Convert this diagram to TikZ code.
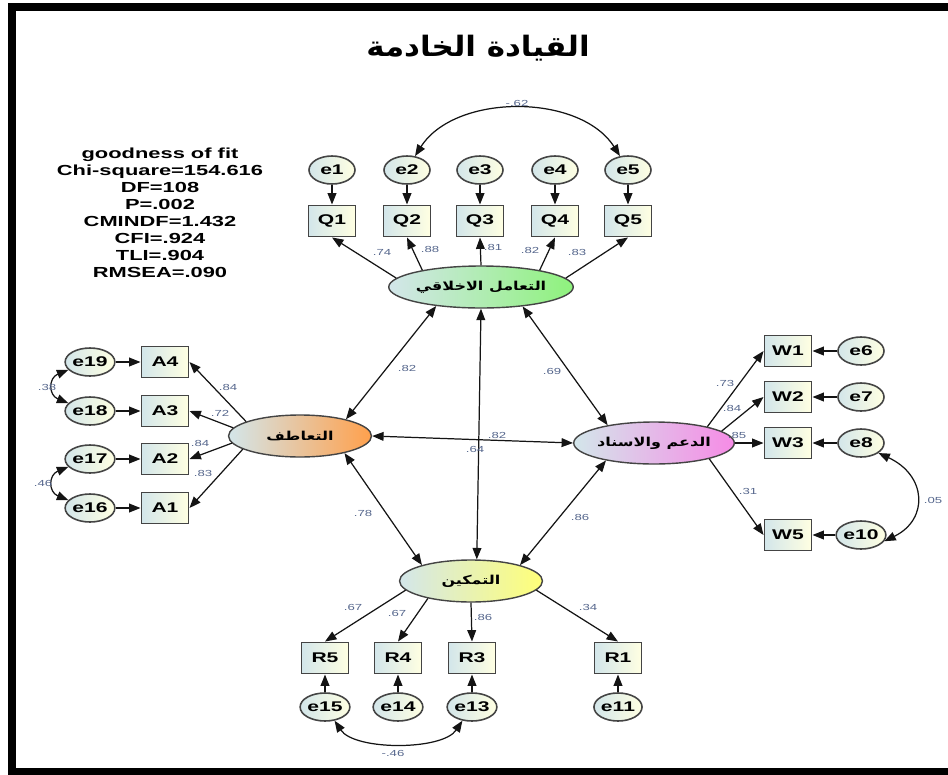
\documentclass[tikz,border=0pt]{standalone}
\usepackage{fontspec}
\setmainfont{Liberation Sans}
\newfontfamily\latinwide[FakeStretch=1.5]{Liberation Sans}
\newfontfamily\arabicfont[Script=Arabic,FakeStretch=1.3]{DejaVu Sans}
\newfontfamily\arabictitle[Script=Arabic,FakeStretch=1.1]{DejaVu Sans}
\TeXXeTstate=1
\usepackage{tikz}
\usetikzlibrary{arrows.meta,shapes.geometric}
\definecolor{SEMLine}{HTML}{141414}
\definecolor{SEMBorder}{HTML}{444444}
\definecolor{SEMNum}{HTML}{55668C}
\definecolor{SEMPale}{HTML}{D3E6EA}
\definecolor{SEMCream}{HTML}{FFFFE2}
\definecolor{SEMGreen}{HTML}{8EF27C}
\definecolor{SEMOrange}{HTML}{FFA04C}
\definecolor{SEMPink}{HTML}{F68BE6}
\definecolor{SEMYellow}{HTML}{FFFF78}

\begin{document}
\begin{tikzpicture}[x=0.02cm,y=-0.02cm,
  obs/.style={draw=SEMBorder,line width=1.1pt,left color=SEMPale,right color=SEMCream,
              minimum width=0.94cm,minimum height=0.62cm,inner sep=0pt,
              font=\latinwide\bfseries\fontsize{8}{9}\selectfont},
  err/.style={ellipse,draw=SEMBorder,line width=0.9pt,left color=SEMPale,right color=SEMCream,
              minimum width=0.92cm,minimum height=0.56cm,inner sep=0pt,
              font=\latinwide\bfseries\fontsize{8}{9}\selectfont},
  lat/.style={ellipse,draw=SEMBorder,line width=0.8pt,left color=SEMPale,
              minimum width=2.86cm,minimum height=0.84cm,inner sep=0pt,
              font=\arabicfont\bfseries\fontsize{7}{9}\selectfont},
  num/.style={text=SEMNum,inner sep=0pt,font=\latinwide\fontsize{5}{6}\selectfont},
  arr/.style={-{Triangle[length=6.5pt,width=5pt]},line width=0.7pt,draw=SEMLine},
  cov/.style={{Triangle[length=6.5pt,width=5pt]}-{Triangle[length=6.5pt,width=5pt]},
              line width=0.7pt,draw=SEMLine}
]
\useasboundingbox (0,0) rectangle (948,775);
\fill (8,3) rectangle (948,11);
\fill (8,3) rectangle (16,775);
\fill (8,768) rectangle (948,775);

\node[font=\arabictitle\bfseries\fontsize{16}{18}\selectfont] (title) at (478,48) {\beginR القيادة الخادمة\endR};
\node[align=center,font=\latinwide\bfseries\fontsize{8.3}{9.7}\selectfont] (gof) at (160,213)
  {goodness of fit\\Chi-square=154.616\\DF=108\\P=.002\\CMINDF=1.432\\CFI=.924\\TLI=.904\\RMSEA=.090};

\node[err] (e1) at (332,170) {e1};
\node[err] (e2) at (407,170) {e2};
\node[err] (e3) at (480,170) {e3};
\node[err] (e4) at (555,170) {e4};
\node[err] (e5) at (628,170) {e5};
\node[obs] (Q1) at (332,221) {Q1};
\node[obs] (Q2) at (407,221) {Q2};
\node[obs] (Q3) at (480,221) {Q3};
\node[obs] (Q4) at (555,221) {Q4};
\node[obs] (Q5) at (628,221) {Q5};
\node[lat,right color=SEMGreen] (moral) at (481,287) {\beginR التعامل الاخلاقي\endR};

\node[err] (e19) at (90,362) {e19};
\node[err] (e18) at (90,411) {e18};
\node[err] (e17) at (90,459) {e17};
\node[err] (e16) at (90,508) {e16};
\node[obs] (A4) at (165,362) {A4};
\node[obs] (A3) at (165,411) {A3};
\node[obs] (A2) at (165,459) {A2};
\node[obs] (A1) at (165,508) {A1};
\node[lat,right color=SEMOrange] (empathy) at (300,436) {\beginR التعاطف\endR};

\node[obs] (W1) at (788,351) {W1};
\node[obs] (W2) at (788,397) {W2};
\node[obs] (W3) at (788,443) {W3};
\node[obs] (W5) at (788,535) {W5};
\node[err] (e6) at (861,351) {e6};
\node[err] (e7) at (861,397) {e7};
\node[err] (e8) at (861,443) {e8};
\node[err] (e10) at (861,535) {e10};
\node[lat,right color=SEMPink] (support) at (654,443) {\beginR الدعم والاسناد\endR};

\node[lat,right color=SEMYellow] (empower) at (471,581) {\beginR التمكين\endR};
\node[obs] (R5) at (325,658) {R5};
\node[obs] (R4) at (398,658) {R4};
\node[obs] (R3) at (472,658) {R3};
\node[obs] (R1) at (618,658) {R1};
\node[err] (e15) at (325,707) {e15};
\node[err] (e14) at (398,707) {e14};
\node[err] (e13) at (472,707) {e13};
\node[err] (e11) at (618,707) {e11};

\draw[arr] (e1) -- (Q1);
\draw[arr] (e2) -- (Q2);
\draw[arr] (e3) -- (Q3);
\draw[arr] (e4) -- (Q4);
\draw[arr] (e5) -- (Q5);
\draw[arr] (moral.174) -- (Q1.south);
\draw[arr] (moral.164) -- (Q2.south);
\draw[arr] (moral.north) -- (Q3.south);
\draw[arr] (moral.16) -- (Q4.south);
\draw[arr] (moral.6) -- (Q5.south);
\draw[cov] (e2.60) .. controls +(40,-63) and +(-40,-63) .. (e5.120);

\draw[arr] (e19) -- (A4);
\draw[arr] (e18) -- (A3);
\draw[arr] (e17) -- (A2);
\draw[arr] (e16) -- (A1);
\draw[arr] (empathy.165) -- (A4.east);
\draw[arr] (empathy.173) -- (A3.east);
\draw[arr] (empathy.186) -- (A2.east);
\draw[arr] (empathy.193) -- (A1.east);
\draw[cov] (e19.200) .. controls +(-20,8) and +(-20,-8) .. (e18.160);
\draw[cov] (e17.200) .. controls +(-20,8) and +(-20,-8) .. (e16.160);

\draw[arr] (e6) -- (W1);
\draw[arr] (e7) -- (W2);
\draw[arr] (e8) -- (W3);
\draw[arr] (e10) -- (W5);
\draw[arr] (support.17) -- (W1.west);
\draw[arr] (support.10) -- (W2.west);
\draw[arr] (support.east) -- (W3.west);
\draw[arr] (support.344) -- (W5.west);
\draw[cov] (e8.330) .. controls +(48,22) and +(45,-22) .. (e10.345);

\draw[arr] (e15) -- (R5);
\draw[arr] (e14) -- (R4);
\draw[arr] (e13) -- (R3);
\draw[arr] (e11) -- (R1);
\draw[arr] (empower.188) -- (R5.north);
\draw[arr] (empower.202) -- (R4.north);
\draw[arr] (empower.south) -- (R3.north);
\draw[arr] (empower.352) -- (R1.north);
\draw[cov] (e15.305) .. controls +(20,30) and +(-20,30) .. (e13.235);

\draw[cov] (moral.203) -- (empathy.20);
\draw[cov] (moral.335) -- (support.159);
\draw[cov] (empathy.east) -- (support.west);
\draw[cov] (moral.south) -- (empower.75);
\draw[cov] (empathy.339) -- (empower.162);
\draw[cov] (support.200) -- (empower.18);

\node[num] (nq1) at (382,252) {.74};
\node[num] (nq2) at (430,249) {.88};
\node[num] (nq3) at (493,247) {.81};
\node[num] (nq4) at (530,250) {.82};
\node[num] (nq5) at (577,252) {.83};
\node[num] (nq25) at (517,103) {-.62};
\node[num] (na4) at (228,387) {.84};
\node[num] (na3) at (220,413) {.72};
\node[num] (na2) at (200,443) {.84};
\node[num] (na1) at (203,473) {.83};
\node[num] (na43) at (47,387) {.38};
\node[num] (na21) at (43,483) {.46};
\node[num] (nw1) at (725,383) {.73};
\node[num] (nw2) at (732,408) {.84};
\node[num] (nw3) at (737,435) {.85};
\node[num] (nw5) at (748,491) {.31};
\node[num] (nw35) at (933,500) {.05};
\node[num] (nr5) at (353,607) {.67};
\node[num] (nr4) at (397,613) {.67};
\node[num] (nr3) at (483,617) {.86};
\node[num] (nr1) at (588,607) {.34};
\node[num] (nr53) at (393,753) {-.46};
\node[num] (nme) at (407,368) {.82};
\node[num] (nms) at (552,371) {.69};
\node[num] (nes) at (497,435) {.82};
\node[num] (nmp) at (475,449) {.64};
\node[num] (nep) at (363,513) {.78};
\node[num] (nsp) at (580,517) {.86};
\end{tikzpicture}
\end{document}
